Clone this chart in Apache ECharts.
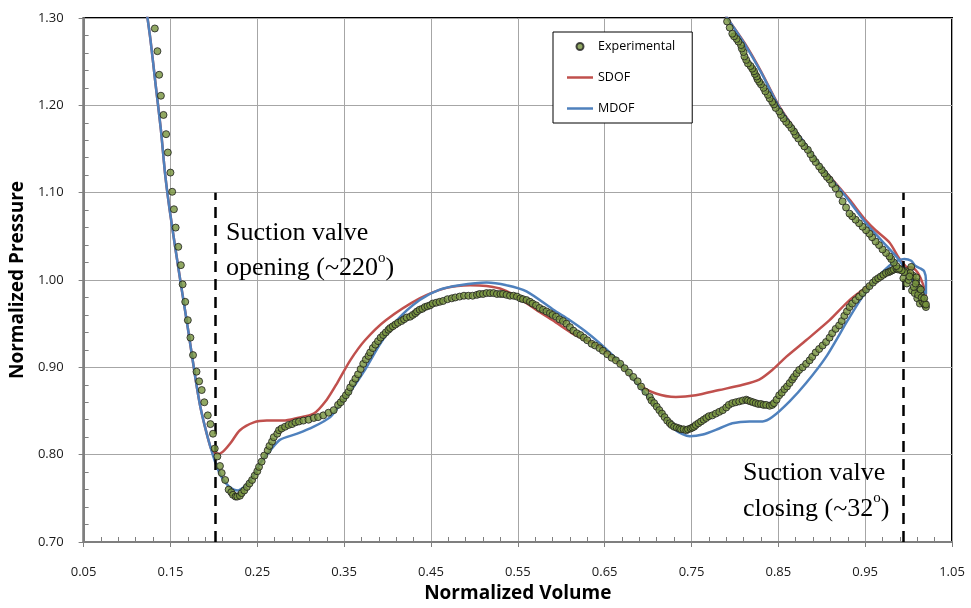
<!DOCTYPE html>
<html>
<head>
<meta charset="utf-8">
<title>Normalized Pressure vs Normalized Volume</title>
<script src="https://cdn.jsdelivr.net/npm/echarts@6/dist/echarts.min.js"></script>
<style>
  html, body { margin: 0; padding: 0; background: #fff; }
  #chart { width: 971px; height: 608px; }
</style>
</head>
<body>
<div id="chart"></div>
<script>
  // experimental p-V points [volume, pressure]
  var expPoints = [
    [0.132,1.288],[0.135,1.262],[0.137,1.235],[0.139,1.211],[0.142,1.189],[0.145,1.167],[0.147,1.146],[0.150,1.123],
    [0.152,1.101],[0.154,1.081],[0.156,1.060],[0.159,1.038],[0.162,1.017],[0.164,0.995],[0.167,0.975],[0.170,0.954],
    [0.173,0.934],[0.176,0.914],[0.180,0.895],[0.183,0.884],[0.186,0.874],[0.189,0.860],[0.193,0.845],[0.196,0.835],
    [0.199,0.824],[0.201,0.807],[0.204,0.798],[0.207,0.787],[0.209,0.779],[0.213,0.771],[0.217,0.760],[0.220,0.757],
    [0.222,0.754],[0.225,0.752],[0.227,0.752],[0.230,0.753],[0.232,0.756],[0.235,0.759],[0.238,0.763],[0.241,0.767],
    [0.244,0.771],[0.247,0.776],[0.250,0.781],[0.252,0.786],[0.255,0.792],[0.258,0.799],[0.262,0.805],[0.264,0.810],
    [0.267,0.815],[0.269,0.820],[0.273,0.824],[0.275,0.828],[0.278,0.830],[0.282,0.832],[0.286,0.834],[0.290,0.835],
    [0.294,0.837],[0.298,0.838],[0.303,0.839],[0.309,0.840],[0.315,0.842],[0.320,0.843],[0.326,0.845],[0.332,0.848],
    [0.338,0.851],[0.343,0.857],[0.346,0.860],[0.349,0.864],[0.352,0.868],[0.355,0.872],[0.357,0.877],[0.360,0.882],
    [0.363,0.887],[0.366,0.892],[0.369,0.898],[0.372,0.904],[0.375,0.909],[0.378,0.913],[0.380,0.917],[0.383,0.922],
    [0.386,0.926],[0.389,0.930],[0.392,0.934],[0.395,0.937],[0.398,0.940],[0.401,0.943],[0.403,0.945],[0.406,0.947],
    [0.409,0.949],[0.412,0.951],[0.416,0.953],[0.419,0.955],[0.422,0.957],[0.426,0.958],[0.429,0.960],[0.432,0.962],
    [0.434,0.964],[0.437,0.966],[0.440,0.967],[0.443,0.969],[0.446,0.970],[0.449,0.971],[0.452,0.973],[0.456,0.974],
    [0.460,0.975],[0.464,0.976],[0.469,0.978],[0.474,0.979],[0.478,0.980],[0.483,0.981],[0.488,0.982],[0.493,0.982],
    [0.498,0.982],[0.503,0.983],[0.506,0.984],[0.510,0.984],[0.514,0.985],[0.518,0.985],[0.522,0.985],[0.526,0.984],
    [0.530,0.984],[0.533,0.984],[0.537,0.983],[0.541,0.982],[0.545,0.982],[0.549,0.981],[0.553,0.979],[0.556,0.978],
    [0.560,0.977],[0.564,0.975],[0.567,0.973],[0.571,0.971],[0.575,0.968],[0.579,0.966],[0.583,0.964],[0.587,0.962],
    [0.590,0.960],[0.594,0.958],[0.598,0.955],[0.602,0.953],[0.606,0.950],[0.610,0.946],[0.614,0.942],[0.618,0.939],
    [0.622,0.937],[0.626,0.934],[0.630,0.931],[0.635,0.927],[0.639,0.925],[0.644,0.922],[0.648,0.919],[0.653,0.915],
    [0.658,0.911],[0.663,0.908],[0.668,0.904],[0.673,0.899],[0.678,0.894],[0.683,0.889],[0.688,0.884],[0.692,0.878],
    [0.697,0.872],[0.702,0.866],[0.704,0.862],[0.707,0.859],[0.710,0.855],[0.713,0.851],[0.716,0.847],[0.719,0.843],
    [0.722,0.839],[0.725,0.836],[0.727,0.834],[0.730,0.832],[0.733,0.831],[0.736,0.830],[0.738,0.829],[0.741,0.829],
    [0.744,0.828],[0.746,0.829],[0.749,0.830],[0.751,0.831],[0.753,0.832],[0.755,0.834],[0.758,0.836],[0.761,0.838],
    [0.764,0.840],[0.767,0.842],[0.770,0.844],[0.774,0.845],[0.778,0.847],[0.782,0.849],[0.786,0.851],[0.790,0.854],
    [0.793,0.857],[0.797,0.859],[0.801,0.860],[0.805,0.861],[0.809,0.862],[0.813,0.863],[0.815,0.862],[0.818,0.861],
    [0.821,0.860],[0.824,0.859],[0.827,0.858],[0.830,0.858],[0.833,0.857],[0.836,0.857],[0.840,0.856],[0.843,0.857],
    [0.845,0.859],[0.848,0.863],[0.851,0.868],[0.854,0.871],[0.857,0.875],[0.860,0.878],[0.863,0.882],[0.866,0.886],
    [0.868,0.889],[0.871,0.893],[0.874,0.897],[0.878,0.900],[0.882,0.904],[0.886,0.908],[0.889,0.912],[0.893,0.917],
    [0.897,0.921],[0.901,0.925],[0.905,0.929],[0.909,0.934],[0.912,0.939],[0.916,0.944],[0.920,0.948],[0.923,0.953],
    [0.926,0.959],[0.929,0.964],[0.932,0.969],[0.935,0.973],[0.939,0.977],[0.943,0.981],[0.947,0.985],[0.951,0.989],
    [0.955,0.993],[0.959,0.997],[0.962,1.000],[0.965,1.002],[0.968,1.004],[0.971,1.006],[0.974,1.008],[0.977,1.009],
    [0.979,1.010],[0.981,1.011],[0.983,1.012],[0.986,1.013],[0.988,1.012],[0.991,1.012],[0.993,1.011],[0.997,1.010],
    [1.003,1.015],[1.005,1.005],[1.009,0.998],[1.012,0.991],[1.014,0.984],[1.017,0.977],[1.019,0.971],[1.020,0.969],
    [0.994,1.002],[0.998,0.996],[1.004,0.988],[1.007,0.985],[1.010,0.979],[1.013,0.973],[1.000,1.000],[1.006,0.992],
    [1.011,0.983],[1.016,0.975],[1.015,0.980],[1.002,1.008],[1.009,1.003],[1.018,0.973],[1.020,0.972],
    [1.018,0.979],[1.014,0.989],[1.008,0.996],[1.001,1.004],[0.995,1.009],[0.992,1.011],[0.989,1.013],[0.986,1.016],
    [0.983,1.020],[0.980,1.024],[0.978,1.027],[0.974,1.031],[0.970,1.035],[0.966,1.040],[0.962,1.044],[0.958,1.049],
    [0.955,1.053],[0.951,1.057],[0.947,1.061],[0.943,1.065],[0.939,1.069],[0.935,1.073],[0.932,1.076],[0.928,1.083],
    [0.924,1.090],[0.920,1.098],[0.916,1.105],[0.912,1.110],[0.909,1.115],[0.906,1.118],[0.903,1.122],[0.900,1.126],
    [0.897,1.130],[0.893,1.135],[0.890,1.139],[0.887,1.144],[0.884,1.149],[0.880,1.153],[0.877,1.157],[0.873,1.162],
    [0.870,1.166],[0.868,1.170],[0.865,1.174],[0.862,1.178],[0.859,1.181],[0.856,1.185],[0.853,1.189],[0.851,1.193],
    [0.847,1.197],[0.845,1.201],[0.843,1.204],[0.840,1.208],[0.838,1.212],[0.835,1.216],[0.833,1.220],[0.830,1.224],
    [0.828,1.227],[0.826,1.230],[0.825,1.233],[0.823,1.236],[0.822,1.239],[0.820,1.242],[0.818,1.245],[0.815,1.248],
    [0.813,1.252],[0.811,1.256],[0.810,1.261],[0.808,1.265],[0.807,1.269],[0.804,1.273],[0.802,1.276],[0.799,1.279],
    [0.797,1.282],[0.794,1.289],[0.791,1.296]
  ];

  // single degree of freedom model, traced along the cycle
  var sdofCurve = [
    [0.122,1.311],[0.127,1.275],[0.133,1.223],[0.139,1.172],[0.144,1.120],[0.149,1.081],[0.156,1.034],[0.163,0.989],
    [0.170,0.945],[0.179,0.886],[0.184,0.857],[0.190,0.831],[0.196,0.809],[0.199,0.803],[0.206,0.801],[0.212,0.805],
    [0.219,0.813],[0.230,0.828],[0.246,0.837],[0.261,0.839],[0.280,0.839],[0.296,0.842],[0.315,0.847],[0.330,0.863],
    [0.342,0.882],[0.357,0.908],[0.374,0.931],[0.398,0.954],[0.437,0.979],[0.468,0.991],[0.495,0.994],[0.514,0.993],
    [0.533,0.989],[0.552,0.979],[0.571,0.966],[0.593,0.952],[0.616,0.937],[0.644,0.924],[0.667,0.904],[0.690,0.880],
    [0.709,0.870],[0.732,0.866],[0.755,0.868],[0.782,0.874],[0.809,0.880],[0.828,0.886],[0.843,0.897],[0.859,0.912],
    [0.882,0.931],[0.909,0.954],[0.932,0.977],[0.955,0.994],[0.978,1.008],[0.995,1.015],[1.005,1.014],[1.012,1.006],
    [1.018,0.991],[1.020,0.982],[1.010,0.998],[0.998,1.014],[0.989,1.025],[0.978,1.043],[0.962,1.057],[0.951,1.068],
    [0.932,1.092],[0.920,1.106],[0.898,1.132],[0.875,1.164],[0.851,1.199],[0.830,1.239],[0.812,1.270],[0.792,1.299],
    [0.787,1.307]
  ];

  // multi degree of freedom model
  var mdofCurve = [
    [0.122,1.311],[0.127,1.275],[0.133,1.223],[0.139,1.172],[0.144,1.120],[0.149,1.081],[0.156,1.034],[0.163,0.989],
    [0.170,0.945],[0.179,0.886],[0.184,0.857],[0.190,0.831],[0.196,0.809],[0.202,0.790],[0.206,0.780],[0.211,0.771],
    [0.217,0.764],[0.223,0.760],[0.228,0.759],[0.232,0.761],[0.237,0.765],[0.242,0.771],[0.248,0.780],[0.253,0.790],
    [0.259,0.798],[0.265,0.805],[0.276,0.817],[0.296,0.824],[0.315,0.832],[0.334,0.843],[0.345,0.857],[0.357,0.872],
    [0.374,0.897],[0.391,0.926],[0.411,0.954],[0.437,0.977],[0.460,0.989],[0.483,0.994],[0.514,0.997],[0.537,0.994],
    [0.560,0.987],[0.591,0.966],[0.610,0.954],[0.627,0.942],[0.644,0.928],[0.667,0.906],[0.690,0.878],[0.713,0.851],
    [0.732,0.828],[0.748,0.821],[0.763,0.823],[0.782,0.830],[0.797,0.836],[0.817,0.838],[0.832,0.838],[0.843,0.843],
    [0.863,0.861],[0.882,0.882],[0.905,0.912],[0.930,0.954],[0.947,0.981],[0.962,1.000],[0.974,1.013],[0.985,1.021],
    [0.995,1.024],[1.003,1.022],[1.008,1.016],[1.014,1.013],[1.018,1.010],[1.020,1.000],[1.020,0.986],[1.020,0.984],
    [1.006,0.998],[0.989,1.023],[0.970,1.044],[0.951,1.065],[0.932,1.090],[0.920,1.105],[0.898,1.132],[0.875,1.164],
    [0.851,1.198],[0.830,1.238],[0.812,1.269],[0.792,1.299],[0.787,1.307]
  ];

  // suction valve events (normalized volume) and marker height
  var valveOpenVolume = 0.202;
  var valveCloseVolume = 0.994;
  var markerBottom = 0.70;
  var markerTop = 1.10;

  var labelFont = 'Open Sans';
  var lineIcon = 'path://M0 0H26V2.5H0Z';
  var fmt2 = function (v) { return v.toFixed(2); };

  var chart = echarts.init(document.getElementById('chart'));
  var option = {
    animation: false,
    backgroundColor: '#fff',
    grid: {
      left: 83, right: 19, top: 18, bottom: 66,
      show: true, borderColor: '#000', borderWidth: 2
    },
    legend: {
      data: [
        { name: 'Experimental', icon: 'circle' },
        { name: 'SDOF', icon: lineIcon },
        { name: 'MDOF', icon: lineIcon }
      ],
      orient: 'vertical',
      left: 553, top: 32,
      itemWidth: 26, itemHeight: 7, itemGap: 18,
      padding: [8, 17, 8, 14],
      backgroundColor: '#fff', borderColor: '#000', borderWidth: 1,
      selectedMode: false,
      textStyle: { fontFamily: labelFont, fontSize: 12.5, color: '#000' }
    },
    xAxis: [
      {
        type: 'value', min: 0.05, max: 1.05, interval: 0.1,
        name: 'Normalized Volume', nameLocation: 'middle', nameGap: 41,
        nameTextStyle: { fontFamily: labelFont, fontWeight: 'bold', fontSize: 19, color: '#000' },
        axisLine: { onZero: false, lineStyle: { color: '#7f7f7f', width: 2 } },
        axisTick: { show: true, length: 5, lineStyle: { color: '#7f7f7f' } },
        axisLabel: { formatter: fmt2, margin: 24, fontFamily: labelFont, fontSize: 13, color: '#1a1a1a' },
        splitLine: { show: true, lineStyle: { color: '#a6a6a6', width: 1 } }
      },
      {
        // minor ticks point inward on the bottom axis
        type: 'value', min: 0.05, max: 1.05, interval: 0.1, position: 'bottom',
        axisLine: { show: false, onZero: false },
        axisTick: { show: false, inside: true },
        minorTick: { show: true, splitNumber: 5, length: 5, lineStyle: { color: '#7f7f7f', width: 1 } },
        axisLabel: { show: false },
        splitLine: { show: false }
      }
    ],
    yAxis: [
      {
        type: 'value', min: 0.7, max: 1.3, interval: 0.1,
        name: 'Normalized Pressure', nameLocation: 'middle', nameGap: 50,
        nameTextStyle: { fontFamily: labelFont, fontWeight: 'bold', fontSize: 19, color: '#000' },
        axisLine: { show: true, onZero: false, lineStyle: { color: '#7f7f7f', width: 2 } },
        axisTick: { show: true, length: 5, lineStyle: { color: '#7f7f7f' } },
        axisLabel: { formatter: fmt2, margin: 20, fontFamily: labelFont, fontSize: 13, color: '#1a1a1a' },
        splitLine: { show: true, lineStyle: { color: '#a6a6a6', width: 1 } }
      },
      {
        type: 'value', min: 0.7, max: 1.3, interval: 0.1, position: 'left',
        axisLine: { show: false, onZero: false },
        axisTick: { show: false, inside: true },
        minorTick: { show: true, splitNumber: 5, length: 5, lineStyle: { color: '#7f7f7f', width: 1 } },
        axisLabel: { show: false },
        splitLine: { show: false }
      }
    ],
    series: [
      {
        name: 'Experimental',
        type: 'scatter',
        xAxisIndex: 1,
        yAxisIndex: 1,
        data: expPoints,
        symbolSize: 7,
        itemStyle: { color: '#76923c', borderColor: '#1e1e1e', borderWidth: 1 },
        z: 5
      },
      {
        name: 'SDOF',
        type: 'line',
        data: sdofCurve,
        symbol: 'none',
        smooth: 0.25,
        lineStyle: { color: '#c0504d', width: 2.5 },
        itemStyle: { color: '#c0504d' },
        z: 3
      },
      {
        name: 'MDOF',
        type: 'line',
        data: mdofCurve,
        symbol: 'none',
        smooth: 0.25,
        lineStyle: { color: '#4f81bd', width: 2.5 },
        itemStyle: { color: '#4f81bd' },
        z: 4,
        markLine: {
          silent: true,
          symbol: ['none', 'none'],
          label: { show: false },
          lineStyle: { color: '#000', type: [11, 7], width: 2.5 },
          data: [
            [{ coord: [valveOpenVolume, markerBottom] }, { coord: [valveOpenVolume, markerTop] }],
            [{ coord: [valveCloseVolume, markerBottom] }, { coord: [valveCloseVolume, markerTop] }]
          ]
        }
      }
    ],
    graphic: [
      {
        type: 'text', x: 226, y: 216, z: 10,
        style: {
          text: 'Suction valve\nopening (~220{sup|o})',
          fontFamily: 'Liberation Serif', fontSize: 26, lineHeight: 35,
          fill: '#000', verticalAlign: 'top', align: 'left',
          rich: { sup: { fontFamily: 'Liberation Serif', fontSize: 15, lineHeight: 19, verticalAlign: 'top', fill: '#000' } }
        }
      },
      {
        type: 'text', x: 743, y: 455, z: 10,
        style: {
          text: 'Suction valve\nclosing (~32{sup|o})',
          fontFamily: 'Liberation Serif', fontSize: 26, lineHeight: 36,
          fill: '#000', verticalAlign: 'top', align: 'left',
          rich: { sup: { fontFamily: 'Liberation Serif', fontSize: 15, lineHeight: 19, verticalAlign: 'top', fill: '#000' } }
        }
      }
    ]
  };
  chart.setOption(option);
</script>
</body>
</html>
